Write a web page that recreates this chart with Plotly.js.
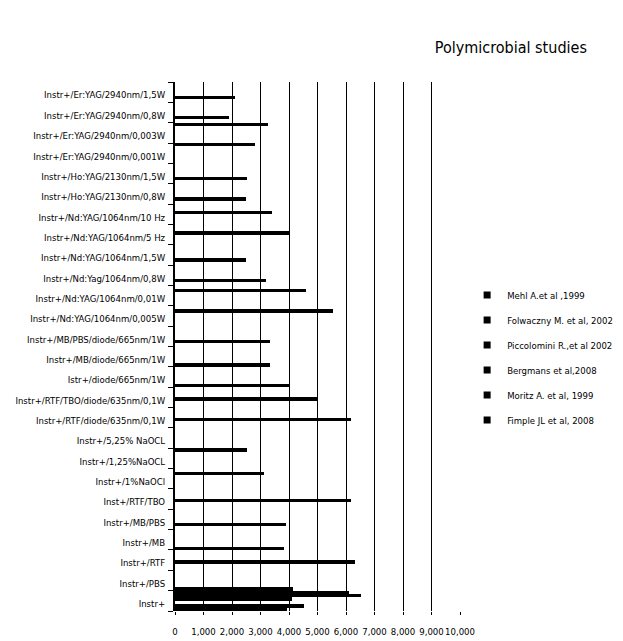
<!DOCTYPE html>
<html>
<head>
<meta charset="utf-8">
<script src="https://cdn.plot.ly/plotly-3.0.1.min.js"></script>
<style>html,body{margin:0;padding:0;background:#fff}#chart{width:623px;height:641px}</style>
</head>
<body>
<div id="chart"></div>
<script>
// Categories, listed bottom to top (as drawn on the axis)
var categories = [
  "Instr+",
  "Instr+/PBS",
  "Instr+/RTF",
  "Instr+/MB",
  "Instr+/MB/PBS",
  "Inst+/RTF/TBO",
  "Instr+/1%NaOCl",
  "Instr+/1,25%NaOCL",
  "Instr+/5,25% NaOCL",
  "Instr+/RTF/diode/635nm/0,1W",
  "Instr+/RTF/TBO/diode/635nm/0,1W",
  "Istr+/diode/665nm/1W",
  "Instr+/MB/diode/665nm/1W",
  "Instr+/MB/PBS/diode/665nm/1W",
  "Instr+/Nd:YAG/1064nm/0,005W",
  "Instr+/Nd:YAG/1064nm/0,01W",
  "Instr+/Nd:Yag/1064nm/0,8W",
  "Instr+/Nd:YAG/1064nm/1,5W",
  "Instr+/Nd:YAG/1064nm/5 Hz",
  "Instr+/Nd:YAG/1064nm/10 Hz",
  "Instr+/Ho:YAG/2130nm/0,8W",
  "Instr+/Ho:YAG/2130nm/1,5W",
  "Instr+/Er:YAG/2940nm/0,001W",
  "Instr+/Er:YAG/2940nm/0,003W",
  "Instr+/Er:YAG/2940nm/0,8W",
  "Instr+/Er:YAG/2940nm/1,5W"
];

// Series values, aligned with categories (null = no bar)
var fimple =      [3920,4130,null,3820,null,null,null,null,null,null,null,3990,3340,null,null,null,null,null,null,null,null,null,null,null,null,null];
var moritz =      [4540,null,null,null,3900,null,null,null,null,null,null,null,null,3340,null,null,3190,2500,null,null,2500,2530,null,null,1910,2120];
var bergmans =    [null,null,6320,null,null,6160,null,null,null,6160,5020,null,null,null,null,null,null,null,null,null,null,null,null,null,null,null];
var piccolomini = [4110,null,null,null,null,null,null,null,null,null,null,null,null,null,null,null,null,null,3990,3390,null,null,null,null,null,null];
var folwaczny =   [6530,null,null,null,null,null,3140,null,null,null,null,null,null,null,5530,4600,null,null,null,null,null,null,null,null,null,null];
var mehl =        [6100,null,null,null,null,null,null,2510,null,null,null,null,null,null,null,null,null,null,null,null,null,null,2790,3260,null,null];

var seriesNames = ["Fimple JL et al, 2008","Moritz A. et al, 1999","Bergmans et al,2008","Piccolomini R.,et al 2002","Folwaczny M. et al, 2002","Mehl A.et al ,1999"];
var seriesValues = [fimple, moritz, bergmans, piccolomini, folwaczny, mehl];

var xTicks = [0,1000,2000,3000,4000,5000,6000,7000,8000,9000,10000];

var FONT = "'Liberation Sans Narrow', 'DejaVu Sans Condensed', 'Arial Narrow', sans-serif";

var traces = [];
seriesValues.forEach(function(vals, i){
  traces.push({
    type: 'bar', orientation: 'h',
    x: vals, y: categories,
    name: seriesNames[i],
    marker: {color: '#000000', line: {width: 0}},
    showlegend: false,
    hoverinfo: 'x+y'
  });
});
seriesValues.forEach(function(vals, i){
  traces.push({
    type: 'scatter', mode: 'markers',
    x: [null], y: [null],
    name: seriesNames[i],
    legendgroup: 'g' + i,
    legendrank: 1000 - i,
    marker: {symbol: 'square', size: 7, color: '#000000'},
    showlegend: true
  });
});

var layout = {
  width: 623, height: 641,
  paper_bgcolor: '#ffffff', plot_bgcolor: '#ffffff',
  margin: {l: 175, r: 163, t: 82, b: 30, autoexpand: false},
  barmode: 'group', bargap: 0, bargroupgap: 0,
  font: {family: FONT, color: '#000000', size: 10},
  title: {
    text: 'Polymicrobial studies',
    font: {family: FONT, size: 16, color: '#000000'},
    xref: 'container', yref: 'container',
    x: 0.82, y: 0.926, xanchor: 'center', yanchor: 'middle'
  },
  xaxis: {
    range: [0, 10000], tickvals: xTicks, tickformat: ',d',
    showgrid: true, gridcolor: '#000000', gridwidth: 1,
    zeroline: false, showline: false,
    ticks: 'outside', ticklen: 3, tickcolor: '#000000',
    tickangle: 0, ticklabelstandoff: 9,
    tickfont: {family: FONT, size: 9.5, color: '#000000'},
    automargin: false, fixedrange: true
  },
  yaxis: {
    type: 'category', categoryorder: 'array', categoryarray: categories,
    showgrid: false, zeroline: false,
    showline: true, linecolor: '#000000', linewidth: 2,
    ticks: 'outside', ticklen: 5, tickcolor: '#000000', tickson: 'boundaries',
    ticklabelstandoff: 6, ticklabelshift: 3,
    tickfont: {family: FONT, size: 9.5, color: '#000000'},
    automargin: false, fixedrange: true
  },
  legend: {
    x: 1.025, y: 0.625, xanchor: 'left', yanchor: 'top',
    traceorder: 'grouped', tracegroupgap: 6,
    font: {family: FONT, size: 9.5, color: '#000000'},
    itemwidth: 30, bgcolor: 'rgba(0,0,0,0)'
  },
  showlegend: true
};

Plotly.newPlot('chart', traces, layout, {displayModeBar: false, staticPlot: true});
</script>
</body>
</html>
